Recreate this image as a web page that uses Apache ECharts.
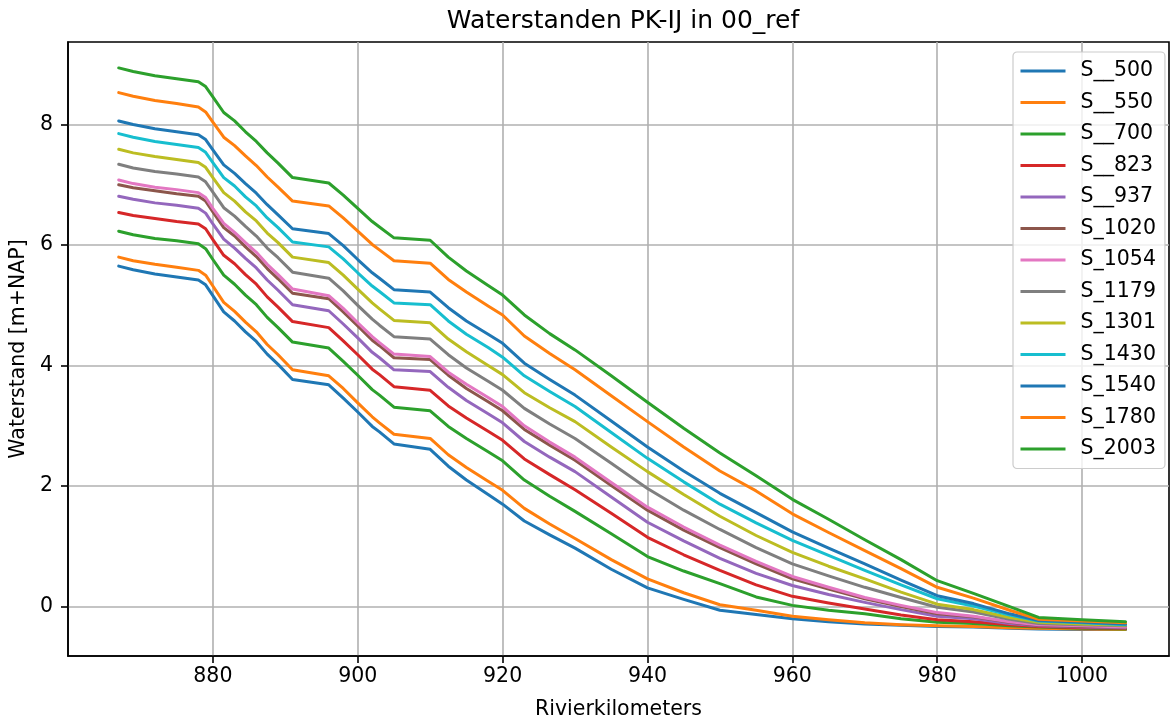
<!DOCTYPE html>
<html><head><meta charset="utf-8">
<script src="https://cdn.jsdelivr.net/npm/echarts@6/dist/echarts.min.js"></script>
<style>html,body{margin:0;padding:0;background:#fff}#c{width:1170px;height:720px}</style>
</head><body><div id="c"></div>
<script>
// river kilometres (x values shared by all series)
const km = [867, 869, 872, 875, 878, 879, 880, 881.5, 883, 884.5, 886, 887.5, 889, 891, 896, 898, 900, 902, 903, 905, 910, 912.5, 915, 918, 920, 923, 926.5, 930, 935, 940, 945, 950, 955, 960, 965, 970, 975, 980, 985, 990, 994, 1000, 1006];

const S__500 = [5.65, 5.59, 5.52, 5.47, 5.42, 5.34, 5.16, 4.89, 4.74, 4.56, 4.40, 4.19, 4.02, 3.77, 3.68, 3.46, 3.23, 2.99, 2.90, 2.70, 2.61, 2.33, 2.10, 1.86, 1.70, 1.42, 1.19, 0.97, 0.62, 0.31, 0.12, -0.06, -0.13, -0.20, -0.25, -0.29, -0.31, -0.33, -0.34, -0.36, -0.37, -0.38, -0.38];
const S__550 = [5.80, 5.74, 5.68, 5.63, 5.58, 5.50, 5.32, 5.05, 4.90, 4.72, 4.56, 4.35, 4.18, 3.93, 3.83, 3.62, 3.38, 3.15, 3.05, 2.86, 2.79, 2.52, 2.31, 2.08, 1.93, 1.63, 1.37, 1.13, 0.78, 0.46, 0.23, 0.03, -0.06, -0.16, -0.22, -0.27, -0.30, -0.32, -0.33, -0.35, -0.36, -0.37, -0.38];
const S__700 = [6.23, 6.17, 6.11, 6.07, 6.02, 5.94, 5.76, 5.50, 5.35, 5.17, 5.01, 4.80, 4.63, 4.39, 4.29, 4.07, 3.84, 3.60, 3.51, 3.31, 3.25, 2.99, 2.79, 2.57, 2.42, 2.10, 1.83, 1.58, 1.21, 0.83, 0.59, 0.38, 0.16, 0.02, -0.06, -0.12, -0.20, -0.26, -0.28, -0.32, -0.34, -0.36, -0.37];
const S__823 = [6.54, 6.49, 6.44, 6.39, 6.35, 6.27, 6.09, 5.83, 5.69, 5.51, 5.35, 5.14, 4.97, 4.73, 4.63, 4.41, 4.18, 3.94, 3.85, 3.65, 3.59, 3.33, 3.13, 2.91, 2.76, 2.45, 2.19, 1.94, 1.55, 1.15, 0.86, 0.60, 0.36, 0.17, 0.06, -0.04, -0.14, -0.22, -0.25, -0.30, -0.33, -0.35, -0.36];
const S__937 = [6.81, 6.76, 6.70, 6.66, 6.61, 6.53, 6.35, 6.10, 5.95, 5.78, 5.62, 5.42, 5.25, 5.01, 4.91, 4.69, 4.46, 4.22, 4.13, 3.93, 3.90, 3.64, 3.42, 3.20, 3.05, 2.74, 2.48, 2.24, 1.82, 1.40, 1.09, 0.80, 0.55, 0.35, 0.20, 0.07, -0.05, -0.16, -0.20, -0.28, -0.32, -0.34, -0.35];
const S_1020 = [7.00, 6.95, 6.90, 6.85, 6.81, 6.73, 6.55, 6.29, 6.15, 5.97, 5.81, 5.61, 5.44, 5.20, 5.11, 4.89, 4.66, 4.42, 4.33, 4.13, 4.10, 3.84, 3.62, 3.40, 3.25, 2.94, 2.68, 2.43, 2.01, 1.60, 1.27, 0.98, 0.71, 0.46, 0.29, 0.13, 0.00, -0.12, -0.17, -0.26, -0.31, -0.33, -0.34];
const S_1054 = [7.08, 7.02, 6.96, 6.92, 6.87, 6.79, 6.61, 6.36, 6.21, 6.04, 5.88, 5.68, 5.51, 5.27, 5.16, 4.95, 4.71, 4.48, 4.38, 4.19, 4.15, 3.89, 3.69, 3.47, 3.32, 3.00, 2.73, 2.48, 2.06, 1.65, 1.32, 1.02, 0.75, 0.50, 0.32, 0.15, 0.02, -0.10, -0.16, -0.25, -0.30, -0.32, -0.34];
const S_1179 = [7.34, 7.28, 7.22, 7.18, 7.13, 7.05, 6.88, 6.62, 6.48, 6.31, 6.15, 5.95, 5.79, 5.55, 5.45, 5.24, 5.00, 4.77, 4.67, 4.48, 4.44, 4.18, 3.96, 3.74, 3.59, 3.29, 3.03, 2.79, 2.38, 1.96, 1.60, 1.28, 0.98, 0.71, 0.51, 0.32, 0.15, -0.01, -0.09, -0.21, -0.28, -0.30, -0.32];
const S_1301 = [7.59, 7.53, 7.47, 7.42, 7.37, 7.29, 7.12, 6.87, 6.73, 6.55, 6.40, 6.20, 6.04, 5.80, 5.71, 5.50, 5.27, 5.04, 4.94, 4.75, 4.71, 4.44, 4.23, 4.00, 3.85, 3.55, 3.30, 3.07, 2.65, 2.24, 1.86, 1.50, 1.18, 0.90, 0.67, 0.46, 0.24, 0.04, -0.05, -0.18, -0.26, -0.29, -0.31];
const S_1430 = [7.85, 7.79, 7.72, 7.67, 7.62, 7.54, 7.37, 7.12, 6.98, 6.80, 6.65, 6.45, 6.29, 6.05, 5.97, 5.77, 5.54, 5.32, 5.23, 5.04, 5.01, 4.74, 4.52, 4.30, 4.14, 3.83, 3.57, 3.32, 2.89, 2.46, 2.07, 1.70, 1.39, 1.10, 0.85, 0.60, 0.36, 0.13, 0.01, -0.14, -0.24, -0.27, -0.30];
const S_1540 = [8.06, 8.00, 7.93, 7.88, 7.83, 7.75, 7.58, 7.33, 7.19, 7.02, 6.86, 6.67, 6.50, 6.27, 6.19, 5.99, 5.76, 5.54, 5.45, 5.26, 5.22, 4.96, 4.74, 4.52, 4.37, 4.04, 3.77, 3.51, 3.08, 2.65, 2.25, 1.88, 1.56, 1.24, 0.97, 0.71, 0.44, 0.18, 0.05, -0.12, -0.23, -0.26, -0.29];
const S_1780 = [8.53, 8.47, 8.40, 8.35, 8.29, 8.21, 8.04, 7.79, 7.65, 7.48, 7.32, 7.13, 6.96, 6.73, 6.65, 6.45, 6.23, 6.01, 5.92, 5.74, 5.70, 5.43, 5.22, 4.99, 4.84, 4.49, 4.20, 3.93, 3.50, 3.07, 2.65, 2.25, 1.92, 1.54, 1.23, 0.93, 0.63, 0.32, 0.14, -0.06, -0.21, -0.24, -0.27];
const S_2003 = [8.94, 8.88, 8.81, 8.76, 8.71, 8.63, 8.46, 8.20, 8.06, 7.88, 7.72, 7.53, 7.36, 7.12, 7.03, 6.83, 6.61, 6.39, 6.30, 6.12, 6.08, 5.80, 5.57, 5.33, 5.17, 4.84, 4.53, 4.26, 3.83, 3.39, 2.96, 2.55, 2.17, 1.78, 1.45, 1.11, 0.78, 0.43, 0.22, 0.00, -0.18, -0.22, -0.25];

const seriesNames = ['S__500', 'S__550', 'S__700', 'S__823', 'S__937', 'S_1020', 'S_1054', 'S_1179', 'S_1301', 'S_1430', 'S_1540', 'S_1780', 'S_2003'];
const seriesValues = [S__500, S__550, S__700, S__823, S__937, S_1020, S_1054, S_1179, S_1301, S_1430, S_1540, S_1780, S_2003];
const xTicks = [880, 900, 920, 940, 960, 980, 1000];
const yTicks = [0, 2, 4, 6, 8];

const colors = ['#1f77b4', '#ff7f0e', '#2ca02c', '#d62728', '#9467bd', '#8c564b', '#e377c2', '#7f7f7f', '#bcbd22', '#17becf', '#1f77b4', '#ff7f0e', '#2ca02c'];
const FONT = 'DejaVu Sans';

const chart = echarts.init(document.getElementById('c'), null, {renderer: 'canvas'});
const series = seriesNames.map((n, i) => ({
  name: n,
  type: 'line',
  data: km.map((x, j) => [x, seriesValues[i][j]]),
  showSymbol: false,
  symbol: 'none',
  color: colors[i],
  lineStyle: {width: 3, color: colors[i], join: 'round', cap: 'round'},
  emphasis: {disabled: true},
  z: 3
}));

chart.setOption({
  animation: false,
  backgroundColor: '#fff',
  textStyle: {fontFamily: FONT},
  title: {
    text: 'Waterstanden PK-IJ in 00_ref',
    left: 623, top: 9, textAlign: 'center', padding: 0,
    textStyle: {fontFamily: FONT, fontSize: 25, fontWeight: 'normal', color: '#000'}
  },
  grid: {left: 68, right: 1, top: 42, bottom: 64, show: true, borderColor: '#000', borderWidth: 1.6, containLabel: false, outerBoundsMode: 'none'},
  legend: {
    orient: 'vertical', left: 1013, top: 52,
    padding: [8.5, 9, 9, 7.5],
    itemWidth: 45, itemHeight: 3, itemGap: 10.5, icon: 'rect',
    backgroundColor: 'rgba(255,255,255,0.8)', borderColor: '#cccccc', borderWidth: 1.2, borderRadius: 4,
    textStyle: {fontFamily: FONT, fontSize: 20.5, color: '#000', lineHeight: 21, padding: [0, 0, 0, 10]},
    data: seriesNames
  },
  xAxis: {
    type: 'value', min: 860, max: 1012, interval: 20,
    name: 'Rivierkilometers', nameLocation: 'middle', nameGap: 43,
    nameTextStyle: {fontFamily: FONT, fontSize: 20.5, color: '#000'},
    axisLine: {show: true, onZero: false, lineStyle: {color: '#000', width: 1.6}},
    axisTick: {show: true, length: 7, lineStyle: {color: '#000', width: 1.6}, customValues: xTicks},
    axisLabel: {fontFamily: FONT, fontSize: 20.5, color: '#000', margin: 10, customValues: xTicks,
      formatter: v => String(v)},
    splitLine: {show: true, lineStyle: {color: '#b0b0b0', width: 1.6}}
  },
  yAxis: {
    type: 'value', min: -0.82, max: 9.37,
    name: 'Waterstand [m+NAP]', nameLocation: 'middle', nameGap: 35,
    nameTextStyle: {fontFamily: FONT, fontSize: 20.5, color: '#000'},
    axisLine: {show: true, onZero: false, lineStyle: {color: '#000', width: 1.6}},
    axisTick: {show: true, length: 7, lineStyle: {color: '#000', width: 1.6}, customValues: yTicks},
    axisLabel: {fontFamily: FONT, fontSize: 20.5, color: '#000', margin: 15, customValues: yTicks},
    splitLine: {show: true, lineStyle: {color: '#b0b0b0', width: 1.6}, customValues: yTicks}
  },
  series: series
});
</script>
</body></html>
